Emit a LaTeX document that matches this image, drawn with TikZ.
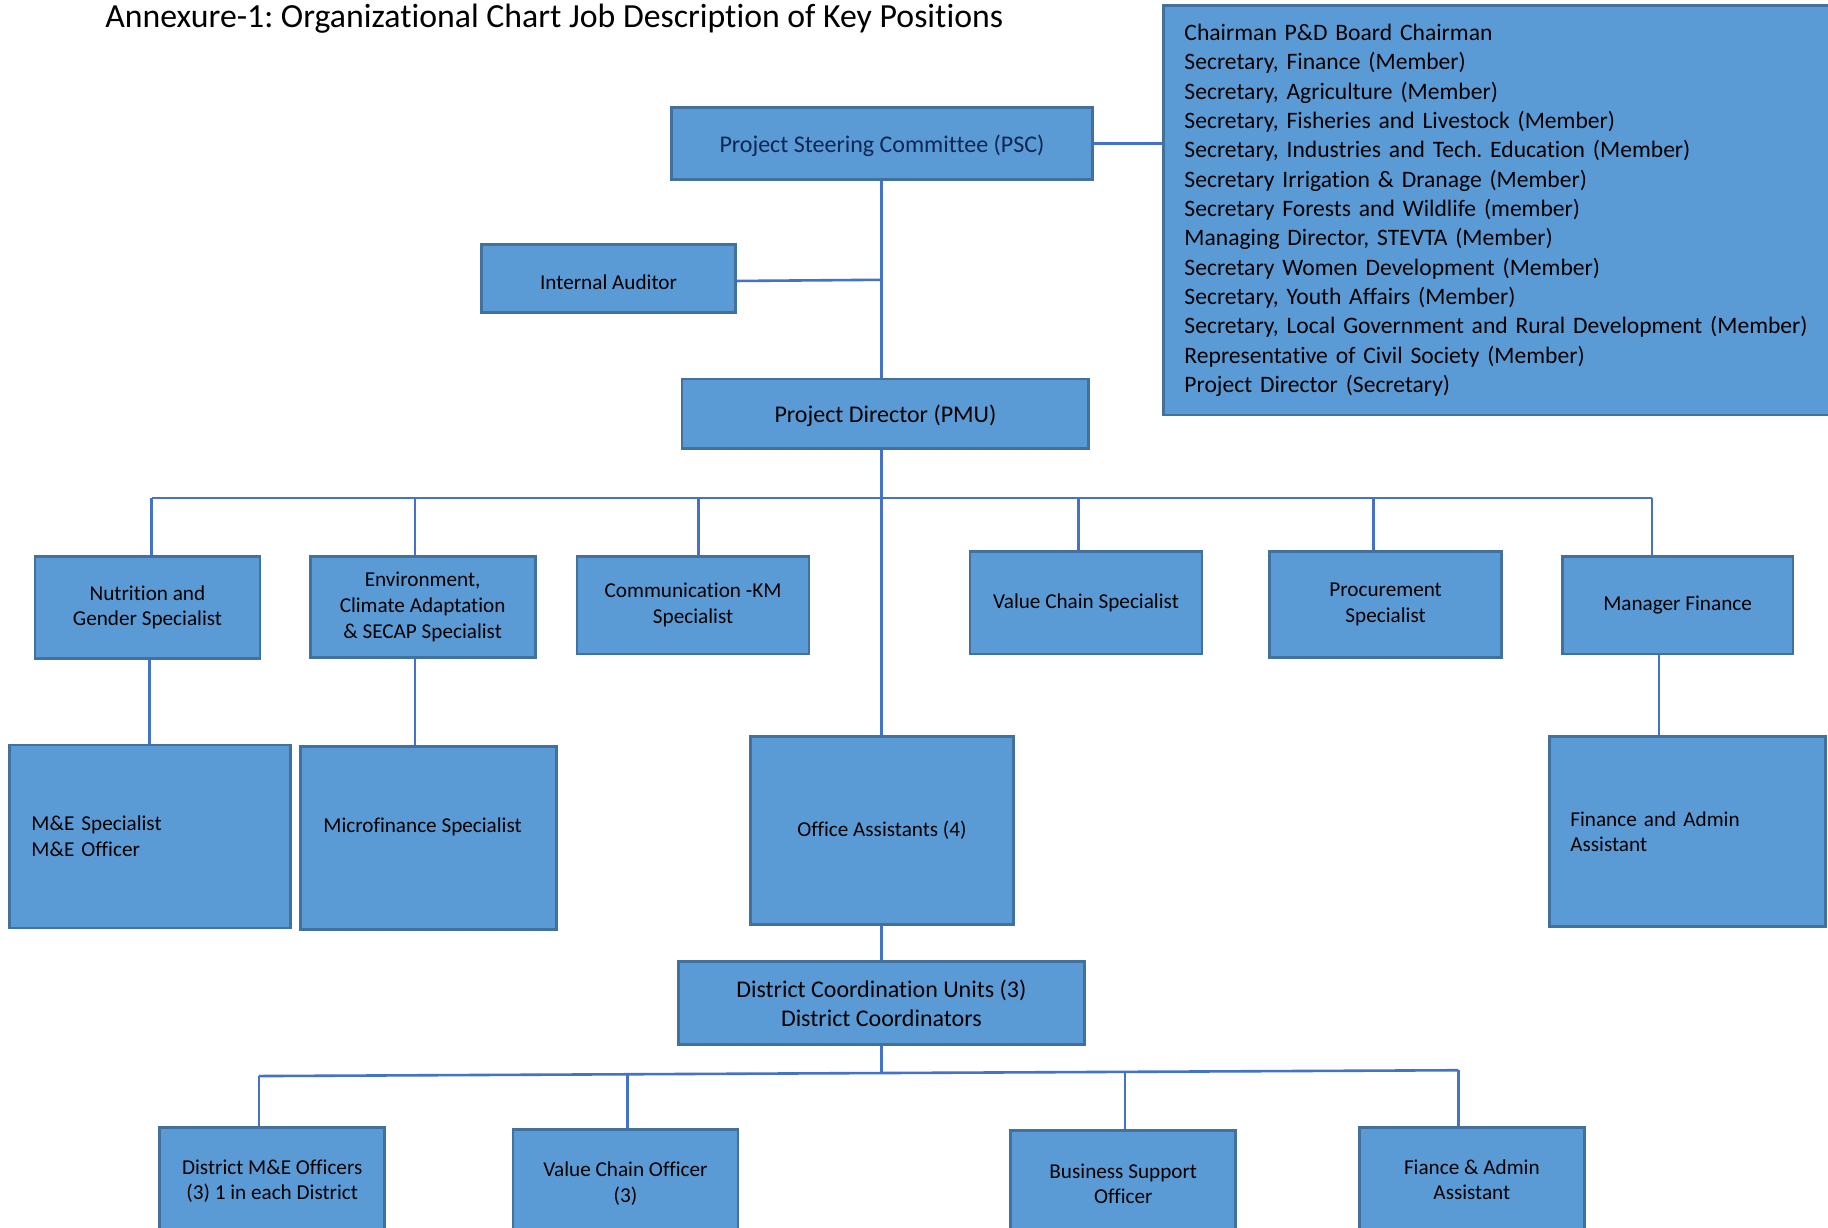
\documentclass[tikz,border=0pt]{standalone}
\usepackage{fontspec}
\setmainfont{Carlito}[Ligatures={NoCommon}]
\frenchspacing
\definecolor{boxfill}{HTML}{5B9BD5}
\definecolor{boxedge}{HTML}{41719C}
\definecolor{linkblue}{HTML}{4472C4}
\definecolor{navytext}{HTML}{0D2654}

% \orgbox[options]{name}{left}{top}{right}{bottom}{text}
\newcommand\orgbox[7][]{%
  \node[orgnode,minimum width={(#5-#3)*0.5833pt},minimum height={(#6-#4)*0.5833pt},#1]
    (#2) at ({(#3+#5)/2},{(#4+#6)/2}) {#7};}
% lift a two-line label inside a tall box
\newcommand\lifted[2]{\raisebox{#1\dimexpr0.5833pt\relax}{\begin{tabular}{@{}c@{}}#2\end{tabular}}}
% nudge a one-line label down without changing its box
\newcommand\nudged[2]{\raisebox{-#1\dimexpr0.5833pt\relax}[\height][\depth]{#2}}

\begin{document}
\begin{tikzpicture}[x=0.5833pt,y=-0.5833pt,
  orgnode/.style={draw=boxedge,fill=boxfill,line width=1.4pt,inner sep=0pt,
    align=center,font={\fontsize{10.6}{12.9}\selectfont}},
  bigtext/.style={font={\fontsize{12}{14.68}\selectfont}},
  link/.style={draw=linkblue,line width=1.3pt}]
\useasboundingbox (0,0) rectangle (1568,1053);
\clip (0,0) rectangle (1568,1053);
\fill[white] (0,0) rectangle (1568,1053);

\node[anchor=west,inner sep=0pt,font={\fontsize{16.9}{20}\selectfont}] (title) at (90,16)
  {Annexure-1: Organizational Chart Job Description of Key Positions};

% top level
\orgbox[bigtext,text=navytext]{psc}{576}{92}{937}{154}{\nudged{2}{Project Steering Committee (PSC)}}
\orgbox[align=left,font={\fontsize{11.8}{14.68}\selectfont},text width={566*0.5833pt},inner xsep={18*0.5833pt}]{members}{998}{5}{1600}{356}{%
Chairman P\&D Board Chairman\\
Secretary, Finance (Member)\\
Secretary, Agriculture (Member)\\
Secretary, Fisheries and Livestock (Member)\\
Secretary, Industries and Tech. Education (Member)\\
Secretary Irrigation \& Dranage (Member)\\
Secretary Forests and Wildlife (member)\\
Managing Director, STEVTA (Member)\\
Secretary Women Development (Member)\\
Secretary, Youth Affairs (Member)\\
Secretary, Local Government and Rural Development (Member)\\
Representative of Civil Society (Member)\\
Project Director (Secretary)}
\orgbox{ia}{413}{210}{631}{268}{\nudged{3}{Internal Auditor}}
\orgbox[bigtext]{pd}{585}{325}{934}{385}{\nudged{2}{Project Director (PMU)}}

% specialists row
\orgbox{nut}{30}{477}{223}{565}{Nutrition and\\Gender Specialist}
\orgbox{env}{266}{477}{459}{564}{Environment,\\Climate Adaptation\\\& SECAP Specialist}
\orgbox{comm}{495}{477}{694}{561}{Communication -KM\\Specialist}
\orgbox{vcs}{832}{473}{1031}{561}{Value Chain Specialist}
\orgbox{proc}{1089}{473}{1288}{564}{Procurement\\Specialist}
\orgbox{mf}{1340}{477}{1538}{561}{Manager Finance}

% second row
\orgbox[align=left,text width={203*0.5833pt},inner xsep={19*0.5833pt}]{me}{8}{639}{249}{796}{M\&E Specialist\\M\&E Officer}
\orgbox{micro}{258}{640}{477}{797}{\raisebox{22\dimexpr0.5833pt\relax}{Microfinance Specialist}\hspace*{10\dimexpr0.5833pt\relax}}
\orgbox{oa}{644}{632}{869}{793}{Office Assistants (4)}
\orgbox[align=left,text width={201*0.5833pt},inner xsep={18*0.5833pt}]{faa}{1329}{632}{1566}{795}{Finance and Admin\\Assistant}

% district level
\orgbox[bigtext]{dcu}{582}{825}{930}{896}{District Coordination Units (3)\\District Coordinators}
\orgbox{dme}{137}{967}{330}{1075}{\lifted{32}{District M\&E Officers\\(3) 1 in each District}}
\orgbox{vco}{440}{969}{633}{1075}{\lifted{30}{Value Chain Officer\\(3)}}
\orgbox{bso}{867}{970}{1060}{1075}{\lifted{28}{Business Support\\Officer}}
\orgbox{fad}{1166}{967}{1359}{1075}{\lifted{32}{Fiance \& Admin\\Assistant}}

% connectors: top
\coordinate (iajoin) at (756,240);
\coordinate (spine) at (756,0);
\draw[link] (psc.east) -- (members.west |- psc.east);
\draw[link] (spine |- psc.south) -- (spine |- pd.north);
\draw[link] ([yshift=-2*0.5833pt]ia.east) -- (iajoin);

% specialists bus
\coordinate (b1) at (130,427);
\coordinate (b2) at (356,427);
\coordinate (b3) at (599,427);
\coordinate (b4) at (925,427);
\coordinate (b5) at (1178,427);
\coordinate (b6) at (1417,427);
\draw[link] (b1) -- (b6);
\draw[link] (b1) -- (b1 |- nut.north);
\draw[link] (b2) -- (b2 |- env.north);
\draw[link] (b3) -- (b3 |- comm.north);
\draw[link] (b4) -- (b4 |- vcs.north);
\draw[link] (b5) -- (b5 |- proc.north);
\draw[link] (b6) -- (b6 |- mf.north);
\draw[link] (spine |- pd.south) -- (spine |- oa.north);

% second row links
\coordinate (nutdrop) at (128,0);
\coordinate (mfdrop) at (1423,0);
\draw[link] (nutdrop |- nut.south) -- (nutdrop |- me.north);
\draw[link] (b2 |- env.south) -- (b2 |- micro.north);
\draw[link] (mfdrop |- mf.south) -- (mfdrop |- faa.north);
\draw[link] (spine |- oa.south) -- (spine |- dcu.north);

% district bus
\coordinate (d1) at (222,923);
\coordinate (d2) at (538,921.5);
\coordinate (d0) at (756,920);
\coordinate (d3) at (965,919.4);
\coordinate (d4) at (1251,918);
\draw[link] (spine |- dcu.south) -- (d0);
\draw[link] (d1) -- (d4);
\draw[link] (d1) -- (d1 |- dme.north);
\draw[link] (d2) -- (d2 |- vco.north);
\draw[link] (d3) -- (d3 |- bso.north);
\draw[link] (d4) -- (d4 |- fad.north);
\end{tikzpicture}
\end{document}
